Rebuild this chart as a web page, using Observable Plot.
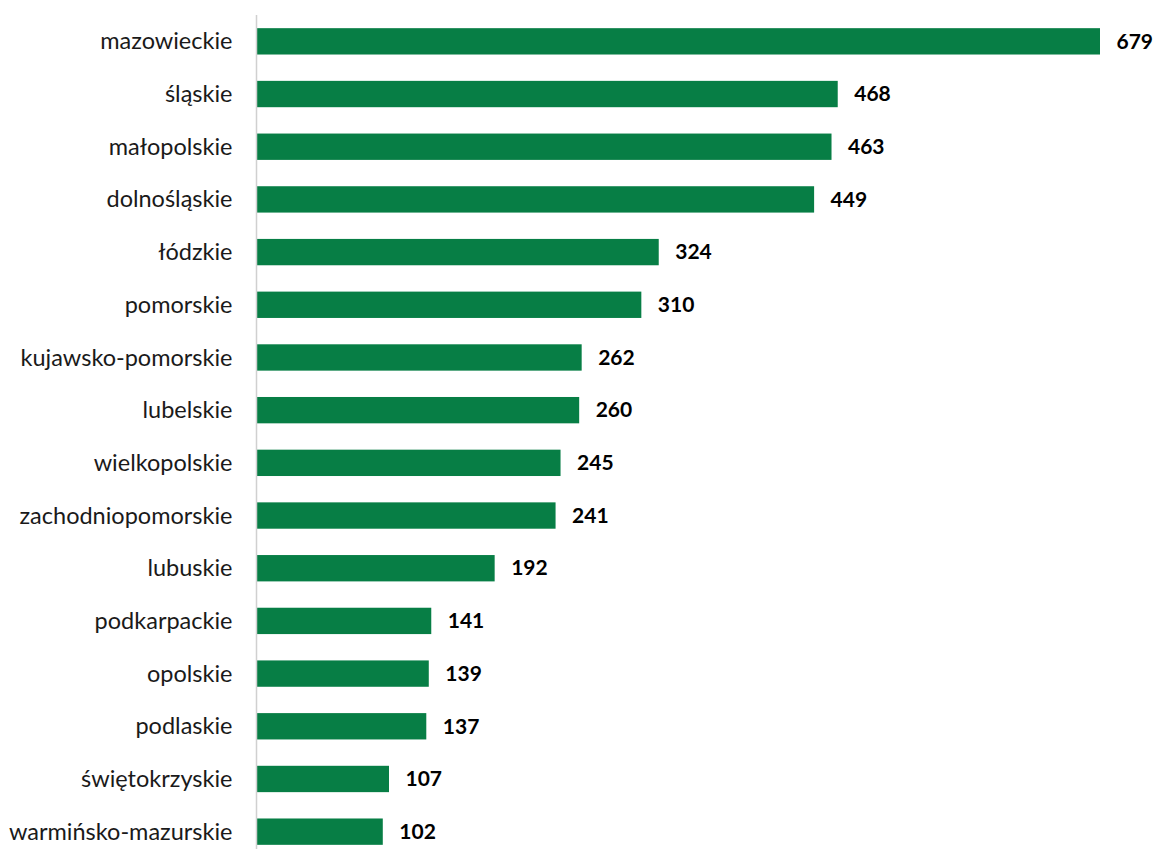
<!DOCTYPE html>
<html>
<head>
<meta charset="utf-8">
<script src="https://cdn.jsdelivr.net/npm/d3@7"></script>
<script src="https://cdn.jsdelivr.net/npm/@observablehq/plot@0.6"></script>
<style>
  html, body { margin: 0; padding: 0; background: #fff; overflow: hidden; }
  #chart { width: 1153px; height: 849px; }
</style>
</head>
<body>
<div id="chart"></div>
<script>
const regions = ["mazowieckie", "śląskie", "małopolskie", "dolnośląskie", "łódzkie", "pomorskie",
  "kujawsko-pomorskie", "lubelskie", "wielkopolskie", "zachodniopomorskie", "lubuskie",
  "podkarpackie", "opolskie", "podlaskie", "świętokrzyskie", "warmińsko-mazurskie"];
const values = [679, 468, 463, 449, 324, 310, 262, 260, 245, 241, 192, 141, 139, 137, 107, 102];

const data = regions.map((r, i) => ({region: r, value: values[i]}));

const chart = Plot.plot({
  width: 1153,
  height: 849,
  marginLeft: 256,
  marginRight: 54,
  marginTop: 15,
  marginBottom: 0,
  style: {fontFamily: "Lato, 'Noto Sans', sans-serif", background: "#fff", overflow: "visible"},
  x: {domain: [0, 679], range: [256, 1100], axis: null},
  y: {domain: regions, range: [15, 858], paddingInner: 0.5, paddingOuter: 0.25, round: false, axis: null},
  marks: [
    Plot.barX(data, {y: "region", x: "value", fill: "#077E45"}),
    Plot.ruleX([0], {stroke: "#d0d0d0", strokeWidth: 1.5}),
    Plot.text(data, {y: "region", x: 0, text: "region", textAnchor: "end", dx: -24,
      fontSize: 23.5, fill: "#1a1a1a"}),
    Plot.text(data, {y: "region", x: "value", text: d => String(d.value), textAnchor: "start", dx: 16,
      fontSize: 21, fontWeight: "bold", fill: "#000"})
  ]
});
document.getElementById("chart").appendChild(chart);
</script>
</body>
</html>
